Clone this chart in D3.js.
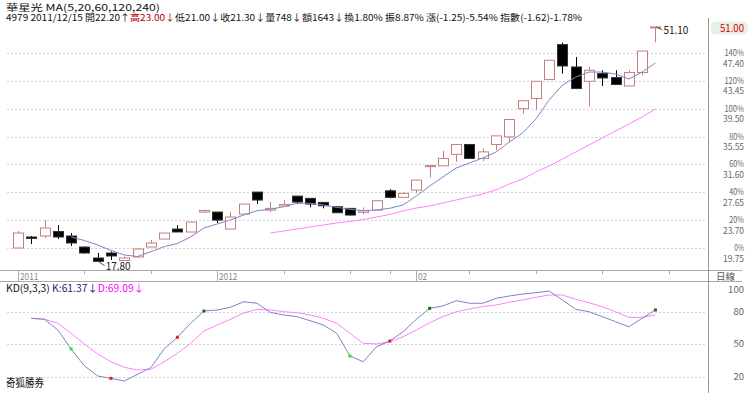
<!DOCTYPE html>
<html>
<head>
<meta charset="utf-8">
<script src="https://cdn.jsdelivr.net/npm/d3@7"></script>
<style>
body { margin: 0; background: #fff; }
svg { display: block; }
text { font-family: "Noto Sans CJK TC", "Noto Sans", sans-serif; }
</style>
</head>
<body>
<svg width="750" height="393"></svg>
<script>
//Candles, oldest first
var opens = [19.75, 21.31, 21.45, 22.09, 21.45, 19.89, 18.33, 19.04, 17.98, 18.48,
    19.89, 21.02, 22.44, 22.02, 24.85, 24.85, 22.44, 24.56, 27.68, 25.13,
    25.70, 27.11, 26.79, 26.22, 25.60, 25.37, 24.80, 25.13, 27.86, 26.93,
    27.96, 31.29, 31.40, 33.02, 34.43, 32.45, 34.43, 35.51, 39.50, 40.95,
    43.63, 48.59, 45.42, 43.39, 44.48, 43.92, 42.73, 44.63, 51.05]
var highs = [22.16, 21.45, 23.71, 23.00, 21.87, 19.96, 19.04, 19.25, 18.55, 19.68,
    20.88, 21.87, 23.00, 23.43, 25.20, 24.85, 24.85, 25.98, 27.68, 26.30,
    26.55, 27.11, 26.79, 26.22, 25.60, 25.37, 25.51, 26.55, 28.10, 27.72,
    29.38, 31.43, 33.53, 34.43, 34.43, 33.86, 35.65, 38.11, 40.63, 43.39,
    46.37, 48.87, 46.83, 45.42, 44.95, 44.95, 44.95, 47.68, 51.10]
var lows = [19.75, 20.32, 21.17, 21.02, 20.03, 18.97, 17.80, 18.05, 17.91, 18.40,
    19.89, 21.02, 22.02, 22.02, 24.71, 23.29, 22.44, 24.56, 25.98, 24.89,
    25.70, 25.98, 25.51, 25.37, 24.75, 24.35, 24.52, 25.13, 26.79, 26.93,
    27.50, 29.76, 31.40, 31.97, 32.45, 32.07, 33.62, 34.80, 38.79, 39.29,
    43.63, 44.48, 42.36, 39.85, 42.73, 42.93, 42.73, 44.24, 48.92]
var closes = [21.87, 21.10, 22.58, 21.31, 20.46, 19.04, 17.85, 18.62, 18.33, 19.61,
    20.46, 21.87, 22.02, 23.43, 25.06, 23.71, 24.14, 25.98, 26.55, 25.37,
    25.91, 26.26, 25.98, 25.74, 24.75, 24.42, 25.03, 26.45, 26.93, 27.50,
    29.38, 31.43, 32.45, 34.43, 32.45, 33.38, 35.65, 37.97, 40.63, 43.39,
    46.37, 45.56, 42.36, 44.95, 43.86, 42.93, 44.63, 47.68, 51.10]

//Moving averages
var ma5 = [null, null, null, null, 21.31, 20.81, 20.18, 19.40, 18.76, 18.54,
    19.22, 19.93, 20.39, 21.31, 22.59, 23.15, 23.72, 24.43, 25.04, 25.24,
    25.61, 26.09, 26.09, 25.85, 25.52, 25.24, 25.04, 25.14, 25.38, 25.85,
    27.12, 28.54, 29.82, 31.09, 31.80, 32.51, 33.36, 34.78, 36.05, 38.04,
    40.73, 42.86, 43.99, 44.70, 44.70, 44.42, 43.71, 44.70, 45.98]
var ma20 = [null, null, null, null, null, null, null, null, null, null,
    null, null, null, null, null, null, null, null, null, 21.88,
    22.16, 22.44, 22.73, 23.01, 23.30, 23.51, 23.79, 24.15, 24.50, 25.00,
    25.42, 25.71, 26.13, 26.56, 26.98, 27.41, 27.98, 28.83, 29.53, 30.53,
    31.38, 32.37, 33.36, 34.36, 35.35, 36.34, 37.33, 38.33, 39.46]

//KD(9,3,3)
var kVals = [null, 73.9, 73.0, 63.1, 45.6, 30.0, 20.6, 18.5, 16.0, 22.2,
    28.3, 45.6, 56.4, 69.3, 80.6, 81.6, 84.1, 89.2, 87.8, 79.4,
    77.0, 75.4, 71.7, 67.7, 60.1, 39.1, 33.8, 47.7, 52.9, 61.5,
    73.0, 83.1, 85.3, 90.2, 87.8, 87.8, 92.4, 94.5, 96.3, 97.5,
    99.1, 90.8, 82.2, 80.0, 75.4, 70.8, 66.1, 73.9, 81.6]
var dVals = [null, 73.9, 73.0, 69.3, 60.1, 50.2, 40.9, 33.8, 28.7, 26.2,
    26.8, 33.8, 41.6, 50.8, 62.2, 67.7, 73.0, 78.8, 82.2, 81.6,
    80.0, 79.1, 77.0, 73.9, 69.3, 60.1, 50.8, 50.2, 52.3, 56.9,
    63.1, 69.8, 75.4, 80.0, 82.5, 84.8, 86.2, 88.7, 90.8, 93.3,
    95.4, 95.4, 91.4, 88.3, 84.6, 80.0, 74.8, 74.8, 77.0]
// signal dots on K: candle index and kind
var signalIdx = [4, 7, 12, 14, 25, 28, 31, 48]
var signalKind = ["g", "r", "r", "d", "g", "r", "d", "d"]

//Axis ticks
var priceTicks = [19.75, 23.70, 27.65, 31.60, 35.55, 39.50, 43.45, 47.40]
var pctLabels = ["0%", "20%", "40%", "60%", "80%", "100%", "120%", "140%"]
var kdTicks = [100, 80, 50, 20]
var kdGrid = [80, 50, 20]
var dateTickIdx = [5, 10, 20, 25, 28, 34, 39, 44, 49]
var dateLabelIdx = [0, 15, 30]
var dateLabels = ["2011", "2012", "02"]
var lastPrice = 51.00

var upColor = "#c67f7f"
var maBlue = "#8282c6"
var maPink = "#ff80ff"
var gridColor = "#d4d4d4"

//Scales
var x = d3.scaleLinear().domain([0, 48]).range([18, 655.4]);
var y = d3.scaleLinear().domain([19.75, 47.40]).range([248, 53]);
var yk = d3.scaleLinear().domain([20, 80]).range([376.7, 311.7]);

var svg = d3.select("svg");
svg.append("rect").attr("width", 750).attr("height", 393).attr("fill", "#fff");

//Header
svg.append("text").attr("x", 6).attr("y", 11)
    .attr("font-size", 9.5).attr("fill", "#111")
    .attr("textLength", 154).attr("lengthAdjust", "spacingAndGlyphs")
    .text("華星光 MA(5,20,60,120,240)");

var info = svg.append("text").attr("x", 6).attr("y", 21)
    .attr("font-size", 9.5).attr("fill", "#111")
    .attr("textLength", 576).attr("lengthAdjust", "spacingAndGlyphs");
info.append("tspan").text("4979 2011/12/15 開22.20↑");
info.append("tspan").attr("fill", "#b00000").text("高23.00↓");
info.append("tspan").text("低21.00↓收21.30↓量748↓額1643↓換1.80% 振8.87% 漲(-1.25)-5.54% 指數(-1.62)-1.78%");

//Grid lines
svg.append("g").selectAll("line").data(priceTicks).enter().append("line")
    .attr("x1", 7).attr("x2", 707)
    .attr("y1", d => Math.round(y(d)) + 0.5).attr("y2", d => Math.round(y(d)) + 0.5)
    .attr("stroke", gridColor).attr("stroke-dasharray", "2,2");

svg.append("g").selectAll("line").data(kdGrid).enter().append("line")
    .attr("x1", 7).attr("x2", 707)
    .attr("y1", d => Math.round(yk(d)) + 0.5).attr("y2", d => Math.round(yk(d)) + 0.5)
    .attr("stroke", gridColor).attr("stroke-dasharray", "2,2");

//Right price axis
var axisR = svg.append("g").attr("font-size", 8.5).attr("fill", "#666").attr("text-anchor", "end");
axisR.selectAll(".pct").data(pctLabels).enter().append("text")
    .attr("x", 744).attr("y", (d, i) => y(priceTicks[i]) + 3)
    .attr("textLength", d => d.length * 4.9).attr("lengthAdjust", "spacingAndGlyphs")
    .text(d => d);
axisR.selectAll(".prc").data(priceTicks).enter().append("text")
    .attr("x", 744).attr("y", d => y(d) + 13.5)
    .attr("textLength", 21).attr("lengthAdjust", "spacingAndGlyphs")
    .text(d => d.toFixed(2));

svg.append("rect").attr("x", 711).attr("y", y(lastPrice) - 6).attr("width", 37).attr("height", 13)
    .attr("rx", 5).attr("fill", "#e4f1e4");
svg.append("text").attr("x", 744).attr("y", y(lastPrice) + 4)
    .attr("font-size", 10).attr("fill", "#e00000").attr("text-anchor", "end")
    .attr("textLength", 24).attr("lengthAdjust", "spacingAndGlyphs")
    .text(lastPrice.toFixed(2));

//KD axis
axisR.selectAll(".kd").data(kdTicks).enter().append("text")
    .attr("x", 744).attr("y", d => yk(d) + 3)
    .attr("font-size", 9.5)
    .attr("textLength", d => String(d).length * 5.3).attr("lengthAdjust", "spacingAndGlyphs")
    .text(d => d);

//Date band
svg.append("line").attr("x1", 0).attr("x2", 742).attr("y1", 270.5).attr("y2", 270.5).attr("stroke", "#aaa");
svg.append("line").attr("x1", 0).attr("x2", 742).attr("y1", 281.5).attr("y2", 281.5).attr("stroke", "#aaa");
svg.append("g").selectAll("line").data(dateTickIdx).enter().append("line")
    .attr("x1", d => Math.round(x(d)) + 0.5).attr("x2", d => Math.round(x(d)) + 0.5)
    .attr("y1", 270.5).attr("y2", 274).attr("stroke", "#aaa");
var dl = svg.append("g").selectAll("g").data(dateLabelIdx).enter().append("g");
dl.append("line")
    .attr("x1", d => Math.round(x(d)) + 0.5).attr("x2", d => Math.round(x(d)) + 0.5)
    .attr("y1", 270.5).attr("y2", 281.5).attr("stroke", "#aaa");
dl.append("text")
    .attr("x", d => Math.round(x(d)) + 2).attr("y", 279.5)
    .attr("font-size", 9.5).attr("fill", "#888")
    .attr("textLength", (d, i) => dateLabels[i].length * 4.6).attr("lengthAdjust", "spacingAndGlyphs")
    .text((d, i) => dateLabels[i]);
svg.append("text").attr("x", 716).attr("y", 279.5).attr("font-size", 9.5).attr("fill", "#555")
    .text("日線");

svg.append("line").attr("x1", 708.5).attr("x2", 708.5).attr("y1", 18).attr("y2", 393).attr("stroke", "#999");

//Candles
var candles = svg.append("g").selectAll("g").data(closes).enter().append("g");
candles.append("line")
    .attr("x1", (d, i) => Math.round(x(i)) + 0.5).attr("x2", (d, i) => Math.round(x(i)) + 0.5)
    .attr("y1", (d, i) => y(highs[i])).attr("y2", (d, i) => y(lows[i]))
    .attr("stroke", (d, i) => d >= opens[i] ? upColor : "#000");
candles.append("rect")
    .attr("x", (d, i) => Math.round(x(i)) - 4.5)
    .attr("y", (d, i) => y(Math.max(d, opens[i])))
    .attr("width", 10)
    .attr("height", (d, i) => Math.max(1, Math.abs(y(d) - y(opens[i]))))
    .attr("fill", (d, i) => d >= opens[i] ? "#fff" : "#000")
    .attr("stroke", (d, i) => d >= opens[i] ? upColor : "#333");

//Moving average lines
var priceLine = d3.line().defined(d => d != null).x((d, i) => x(i)).y(d => y(d));
svg.append("path").datum(ma5).attr("d", priceLine).attr("fill", "none").attr("stroke", maBlue);
svg.append("path").datum(ma20).attr("d", priceLine).attr("fill", "none").attr("stroke", maPink);

//High / low notes
var hiIdx = highs.indexOf(d3.max(highs)), loIdx = lows.indexOf(d3.min(lows));
svg.append("line").attr("x1", x(hiIdx) + 1).attr("y1", y(highs[hiIdx]))
    .attr("x2", x(hiIdx) + 7).attr("y2", y(highs[hiIdx]) + 3).attr("stroke", "#555");
svg.append("text").attr("x", x(hiIdx) + 8).attr("y", y(highs[hiIdx]) + 7)
    .attr("font-size", 11).attr("fill", "#222")
    .attr("textLength", 25).attr("lengthAdjust", "spacingAndGlyphs")
    .text(highs[hiIdx].toFixed(2));
svg.append("line").attr("x1", x(loIdx) + 1).attr("y1", y(lows[loIdx]))
    .attr("x2", x(loIdx) + 7).attr("y2", y(lows[loIdx]) + 4).attr("stroke", "#555");
svg.append("text").attr("x", x(loIdx) + 8).attr("y", y(lows[loIdx]) + 8)
    .attr("font-size", 11).attr("fill", "#222")
    .attr("textLength", 25).attr("lengthAdjust", "spacingAndGlyphs")
    .text(lows[loIdx].toFixed(2));

//KD panel
var kd = svg.append("text").attr("x", 6).attr("y", 291.5)
    .attr("font-size", 10).attr("fill", "#111")
    .attr("textLength", 138).attr("lengthAdjust", "spacingAndGlyphs");
kd.append("tspan").text("KD(9,3,3) ");
kd.append("tspan").attr("fill", "#1c1c80").text("K:61.37↓");
kd.append("tspan").attr("fill", "#ff00ff").text("D:69.09↓");

var kdLine = d3.line().defined(d => d != null).x((d, i) => x(i)).y(d => yk(d));
svg.append("path").datum(dVals).attr("d", kdLine).attr("fill", "none").attr("stroke", maPink);
svg.append("path").datum(kVals).attr("d", kdLine).attr("fill", "none").attr("stroke", maBlue);

var dotColor = { g: "#33e033", r: "#e02020", d: "#1a6e1a" };
svg.append("g").selectAll("rect").data(signalIdx).enter().append("rect")
    .attr("x", d => x(d) - 1.5).attr("y", d => yk(kVals[d]) - 1.5)
    .attr("width", 3).attr("height", 3)
    .attr("fill", (d, i) => dotColor[signalKind[i]]);

svg.append("text").attr("x", 6).attr("y", 387)
    .attr("font-size", 11).attr("fill", "#111")
    .attr("textLength", 38).attr("lengthAdjust", "spacingAndGlyphs")
    .text("奇狐勝券");
</script>
</body>
</html>
